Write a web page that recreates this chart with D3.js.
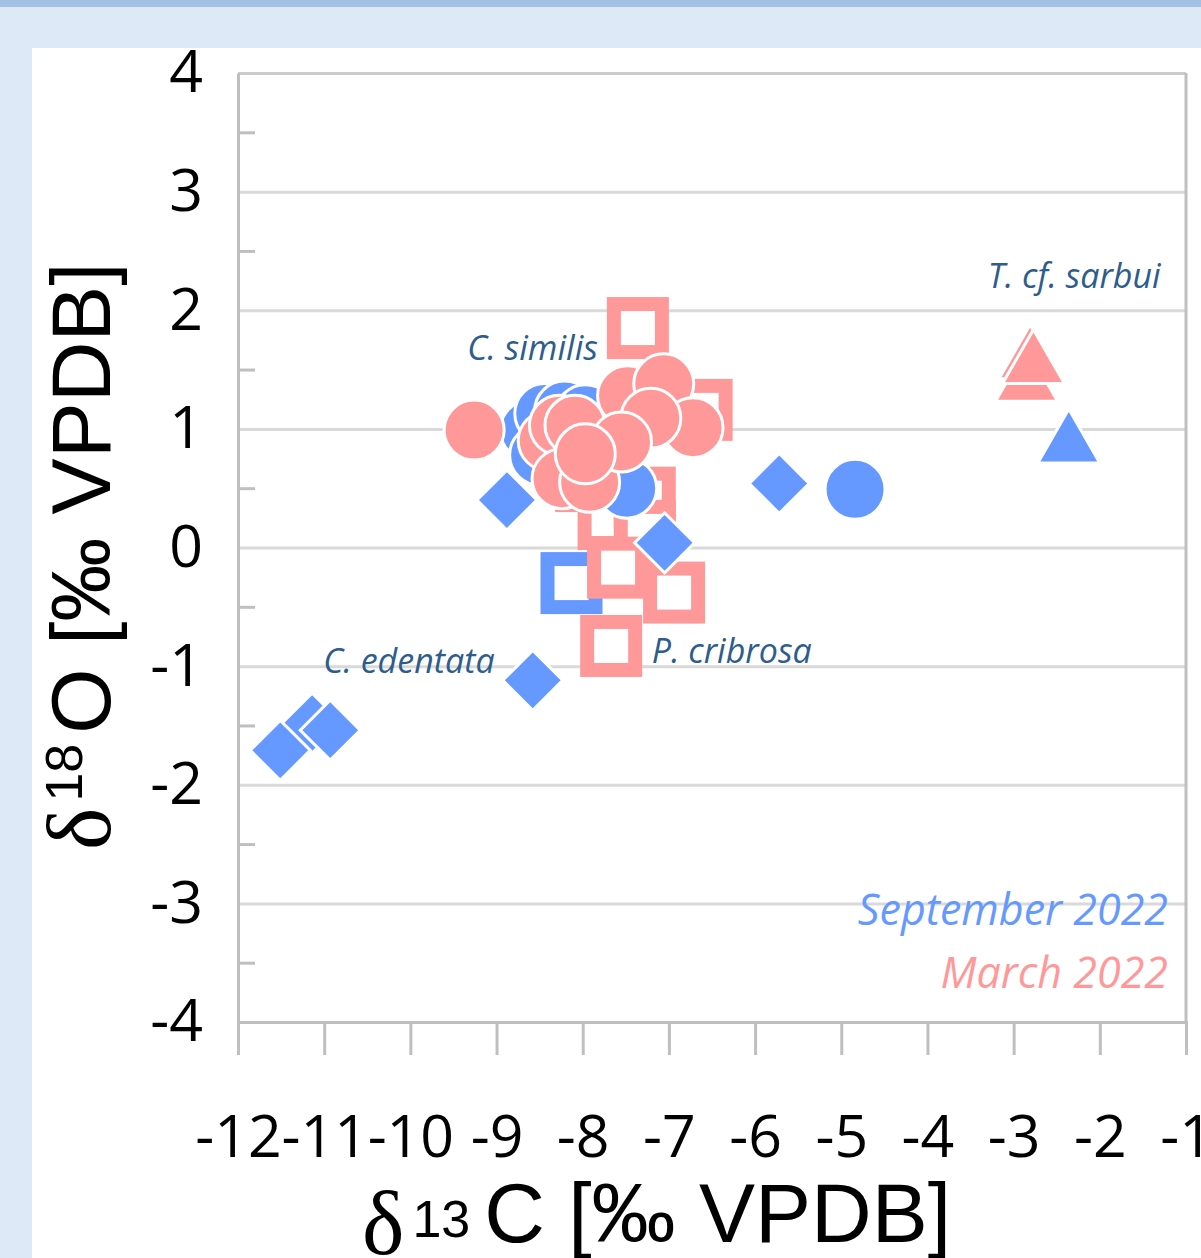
<!DOCTYPE html>
<html>
<head>
<meta charset="utf-8">
<script src="https://cdn.jsdelivr.net/npm/d3@7"></script>
<style>
  body { margin: 0; background: #dde9f6; }
  svg { display: block; }
</style>
</head>
<body>
<div id="chart"></div>
<script>
// values, [d13C, d18O]
var xTicks = d3.range(-12, 0);
var yTicks = d3.range(-4, 5);
var yMinor = [-3.5, -2.5, -1.5, -0.5, 0.5, 1.5, 2.5, 3.5];

var sepSquares = [[-8.13, -0.30]];
var marSquares = [[-7.36, 1.85], [-6.62, 1.16], [-7.96, 0.56], [-7.70, 0.24], [-7.28, 0.42],
                  [-7.28, 0.14], [-7.59, -0.17], [-6.94, -0.38], [-7.67, -0.83]];
var sepCircles = [[-8.61, 0.99], [-8.44, 1.13], [-8.21, 1.15], [-7.97, 1.12], [-8.50, 0.78],
                  [-7.80, 0.90], [-7.49, 0.50], [-4.84, 0.49]];
var marCircles = [[-9.26, 0.99], [-7.48, 1.28], [-7.06, 1.38], [-6.72, 1.01], [-7.21, 1.09],
                  [-8.40, 0.90], [-8.27, 1.03], [-8.24, 0.58], [-7.92, 0.55], [-8.09, 1.03],
                  [-7.55, 0.89], [-7.97, 0.79]];
var sepDiamonds = [[-11.14, -1.48], [-11.51, -1.71], [-10.93, -1.54], [-8.58, -1.12],
                   [-8.88, 0.40], [-7.05, 0.04], [-5.72, 0.54]];
var sepTriangles = [[-2.36, 0.94]];
var marTriangles = [[-2.81, 1.65], [-2.85, 1.46], [-2.77, 1.61]];

var labels = [
  {text: "C. similis", c: -9.34, o: 1.58},
  {text: "T. cf. sarbui", c: -3.30, o: 2.19},
  {text: "C. edentata", c: -11.01, o: -1.06},
  {text: "P. cribrosa", c: -7.20, o: -0.97}
];

var blue = "#6699ff", pink = "#ff9999", grid = "#d9d9d9", axisGrey = "#bfbfbf";
var W = 1201, H = 1258;

var svg = d3.select("#chart").append("svg")
    .attr("width", W)
    .attr("height", H);

// page background bits
svg.append("rect").attr("width", W).attr("height", H).attr("fill", "#dde9f6");
svg.append("rect").attr("width", W).attr("height", 7).attr("fill", "#a3c1e3");
svg.append("rect").attr("x", 32).attr("y", 48).attr("width", W - 32).attr("height", H - 48).attr("fill", "#fff");

var x = d3.scaleLinear().domain([-12, -1]).range([238, 1186]);
var y = d3.scaleLinear().domain([-4, 4]).range([1022, 73]);

// gridlines
svg.append("g")
    .attr("transform", "translate(" + x(-12) + ",0)")
    .call(d3.axisLeft(y).tickValues(yTicks.filter(function (d) { return d > -4; }))
        .tickSize(-(x(-1) - x(-12))).tickFormat(""))
    .call(function (g) {
        g.select(".domain").remove();
        g.selectAll(".tick line").attr("stroke", grid).attr("stroke-width", 3);
        g.select(".tick:last-of-type line").attr("stroke", "#cccccc");
    });

// minor ticks inside the left axis
svg.append("g")
    .attr("transform", "translate(" + x(-12) + ",0)")
    .call(d3.axisRight(y).tickValues(yMinor).tickSize(17).tickFormat(""))
    .call(function (g) {
        g.select(".domain").remove();
        g.selectAll(".tick line").attr("stroke", axisGrey).attr("stroke-width", 3);
    });

// right border
svg.append("line")
    .attr("x1", x(-1)).attr("x2", x(-1))
    .attr("y1", y(4)).attr("y2", y(-4))
    .attr("stroke", axisGrey).attr("stroke-width", 3);

// y axis
svg.append("g")
    .attr("transform", "translate(" + x(-12) + ",0)")
    .call(d3.axisLeft(y).tickValues(yTicks).tickSize(0).tickPadding(35)
        .tickFormat(function (d) { return String(d); }))
    .call(function (g) {
        g.select(".domain").attr("stroke", axisGrey).attr("stroke-width", 3);
        g.selectAll("text")
            .attr("font-family", "'Open Sans', sans-serif")
            .attr("font-size", 59)
            .attr("fill", "#000");
    });

// x axis
svg.append("g")
    .attr("transform", "translate(0," + y(-4) + ")")
    .call(d3.axisBottom(x).tickValues(xTicks).tickSize(33).tickPadding(0)
        .tickFormat(function (d) { return String(d); }))
    .call(function (g) {
        g.select(".domain").attr("stroke", axisGrey).attr("stroke-width", 3);
        g.selectAll(".tick line").attr("stroke", axisGrey).attr("stroke-width", 3);
        g.selectAll("text")
            .attr("y", 135).attr("dy", 0)
            .attr("font-family", "'Open Sans', sans-serif")
            .attr("font-size", 59)
            .attr("fill", "#000");
    });

// markers
function tri(w, h) {
    return "M0," + (-h / 2) + "L" + (w / 2) + "," + (h / 2) + "L" + (-w / 2) + "," + (h / 2) + "Z";
}
var diamond = d3.symbol(d3.symbolSquare, 1800)();

function squares(data, col) {
    svg.append("g").selectAll("rect").data(data).enter().append("rect")
        .attr("x", function (d) { return x(d[0]) - 24; })
        .attr("y", function (d) { return y(d[1]) - 24; })
        .attr("width", 48).attr("height", 48)
        .attr("fill", "#fff")
        .attr("stroke", col).attr("stroke-width", 14);
}
function circles(data, col) {
    svg.append("g").selectAll("circle").data(data).enter().append("circle")
        .attr("cx", function (d) { return x(d[0]); })
        .attr("cy", function (d) { return y(d[1]); })
        .attr("r", 30)
        .attr("fill", col)
        .attr("stroke", "#fff").attr("stroke-width", 3);
}
function diamonds(data, col) {
    svg.append("g").selectAll("path").data(data).enter().append("path")
        .attr("d", diamond)
        .attr("transform", function (d) { return "translate(" + x(d[0]) + "," + y(d[1]) + ") rotate(45)"; })
        .attr("fill", col)
        .attr("stroke", "#fff").attr("stroke-width", 3);
}
function triangles(data, col) {
    svg.append("g").selectAll("path").data(data).enter().append("path")
        .attr("d", tri(62, 54))
        .attr("transform", function (d) { return "translate(" + x(d[0]) + "," + y(d[1]) + ")"; })
        .attr("fill", col)
        .attr("stroke", "#fff").attr("stroke-width", 3);
}

squares(sepSquares, blue);
squares(marSquares, pink);
circles(sepCircles, blue);
circles(marCircles, pink);
diamonds(sepDiamonds, blue);
triangles(sepTriangles, blue);
triangles(marTriangles, pink);

// species names
svg.append("g").selectAll("text").data(labels).enter().append("text")
    .attr("x", function (d) { return x(d.c); })
    .attr("y", function (d) { return y(d.o); })
    .attr("font-family", "'Open Sans', sans-serif")
    .attr("font-style", "italic")
    .attr("font-size", 34)
    .attr("fill", "#2e5d8c")
    .text(function (d) { return d.text; });

// campaign legend
svg.append("text")
    .attr("x", 1168).attr("y", 925)
    .attr("text-anchor", "end")
    .attr("font-family", "'Open Sans', sans-serif")
    .attr("font-style", "italic").attr("font-size", 43)
    .attr("fill", blue).text("September 2022");
svg.append("text")
    .attr("x", 1168).attr("y", 988)
    .attr("text-anchor", "end")
    .attr("font-family", "'Open Sans', sans-serif")
    .attr("font-style", "italic").attr("font-size", 43)
    .attr("fill", pink).text("March 2022");

// axis titles
var xt = svg.append("text")
    .attr("x", 362).attr("y", 1242)
    .attr("font-family", "'Liberation Sans', Arial, sans-serif")
    .attr("font-size", 84).attr("fill", "#000");
xt.append("tspan").attr("font-family", "'Liberation Serif', serif").attr("font-size", 90).attr("dy", 12).text("δ");
xt.append("tspan").attr("font-size", 52).attr("dy", -17).attr("dx", 8).text("13");
xt.append("tspan").attr("dy", 5).attr("dx", 14).text("C [‰ VPDB]");

var yt = svg.append("text")
    .attr("transform", "translate(110,850) rotate(-90)")
    .attr("font-family", "'Liberation Sans', Arial, sans-serif")
    .attr("font-size", 84).attr("fill", "#000");
yt.append("tspan").attr("font-family", "'Liberation Serif', serif").attr("font-size", 90).text("δ");
yt.append("tspan").attr("font-size", 52).attr("dy", -28).attr("dx", 6).text("18");
yt.append("tspan").attr("dy", 28).attr("dx", 10).text("O [‰ VPDB]");
</script>
</body>
</html>
